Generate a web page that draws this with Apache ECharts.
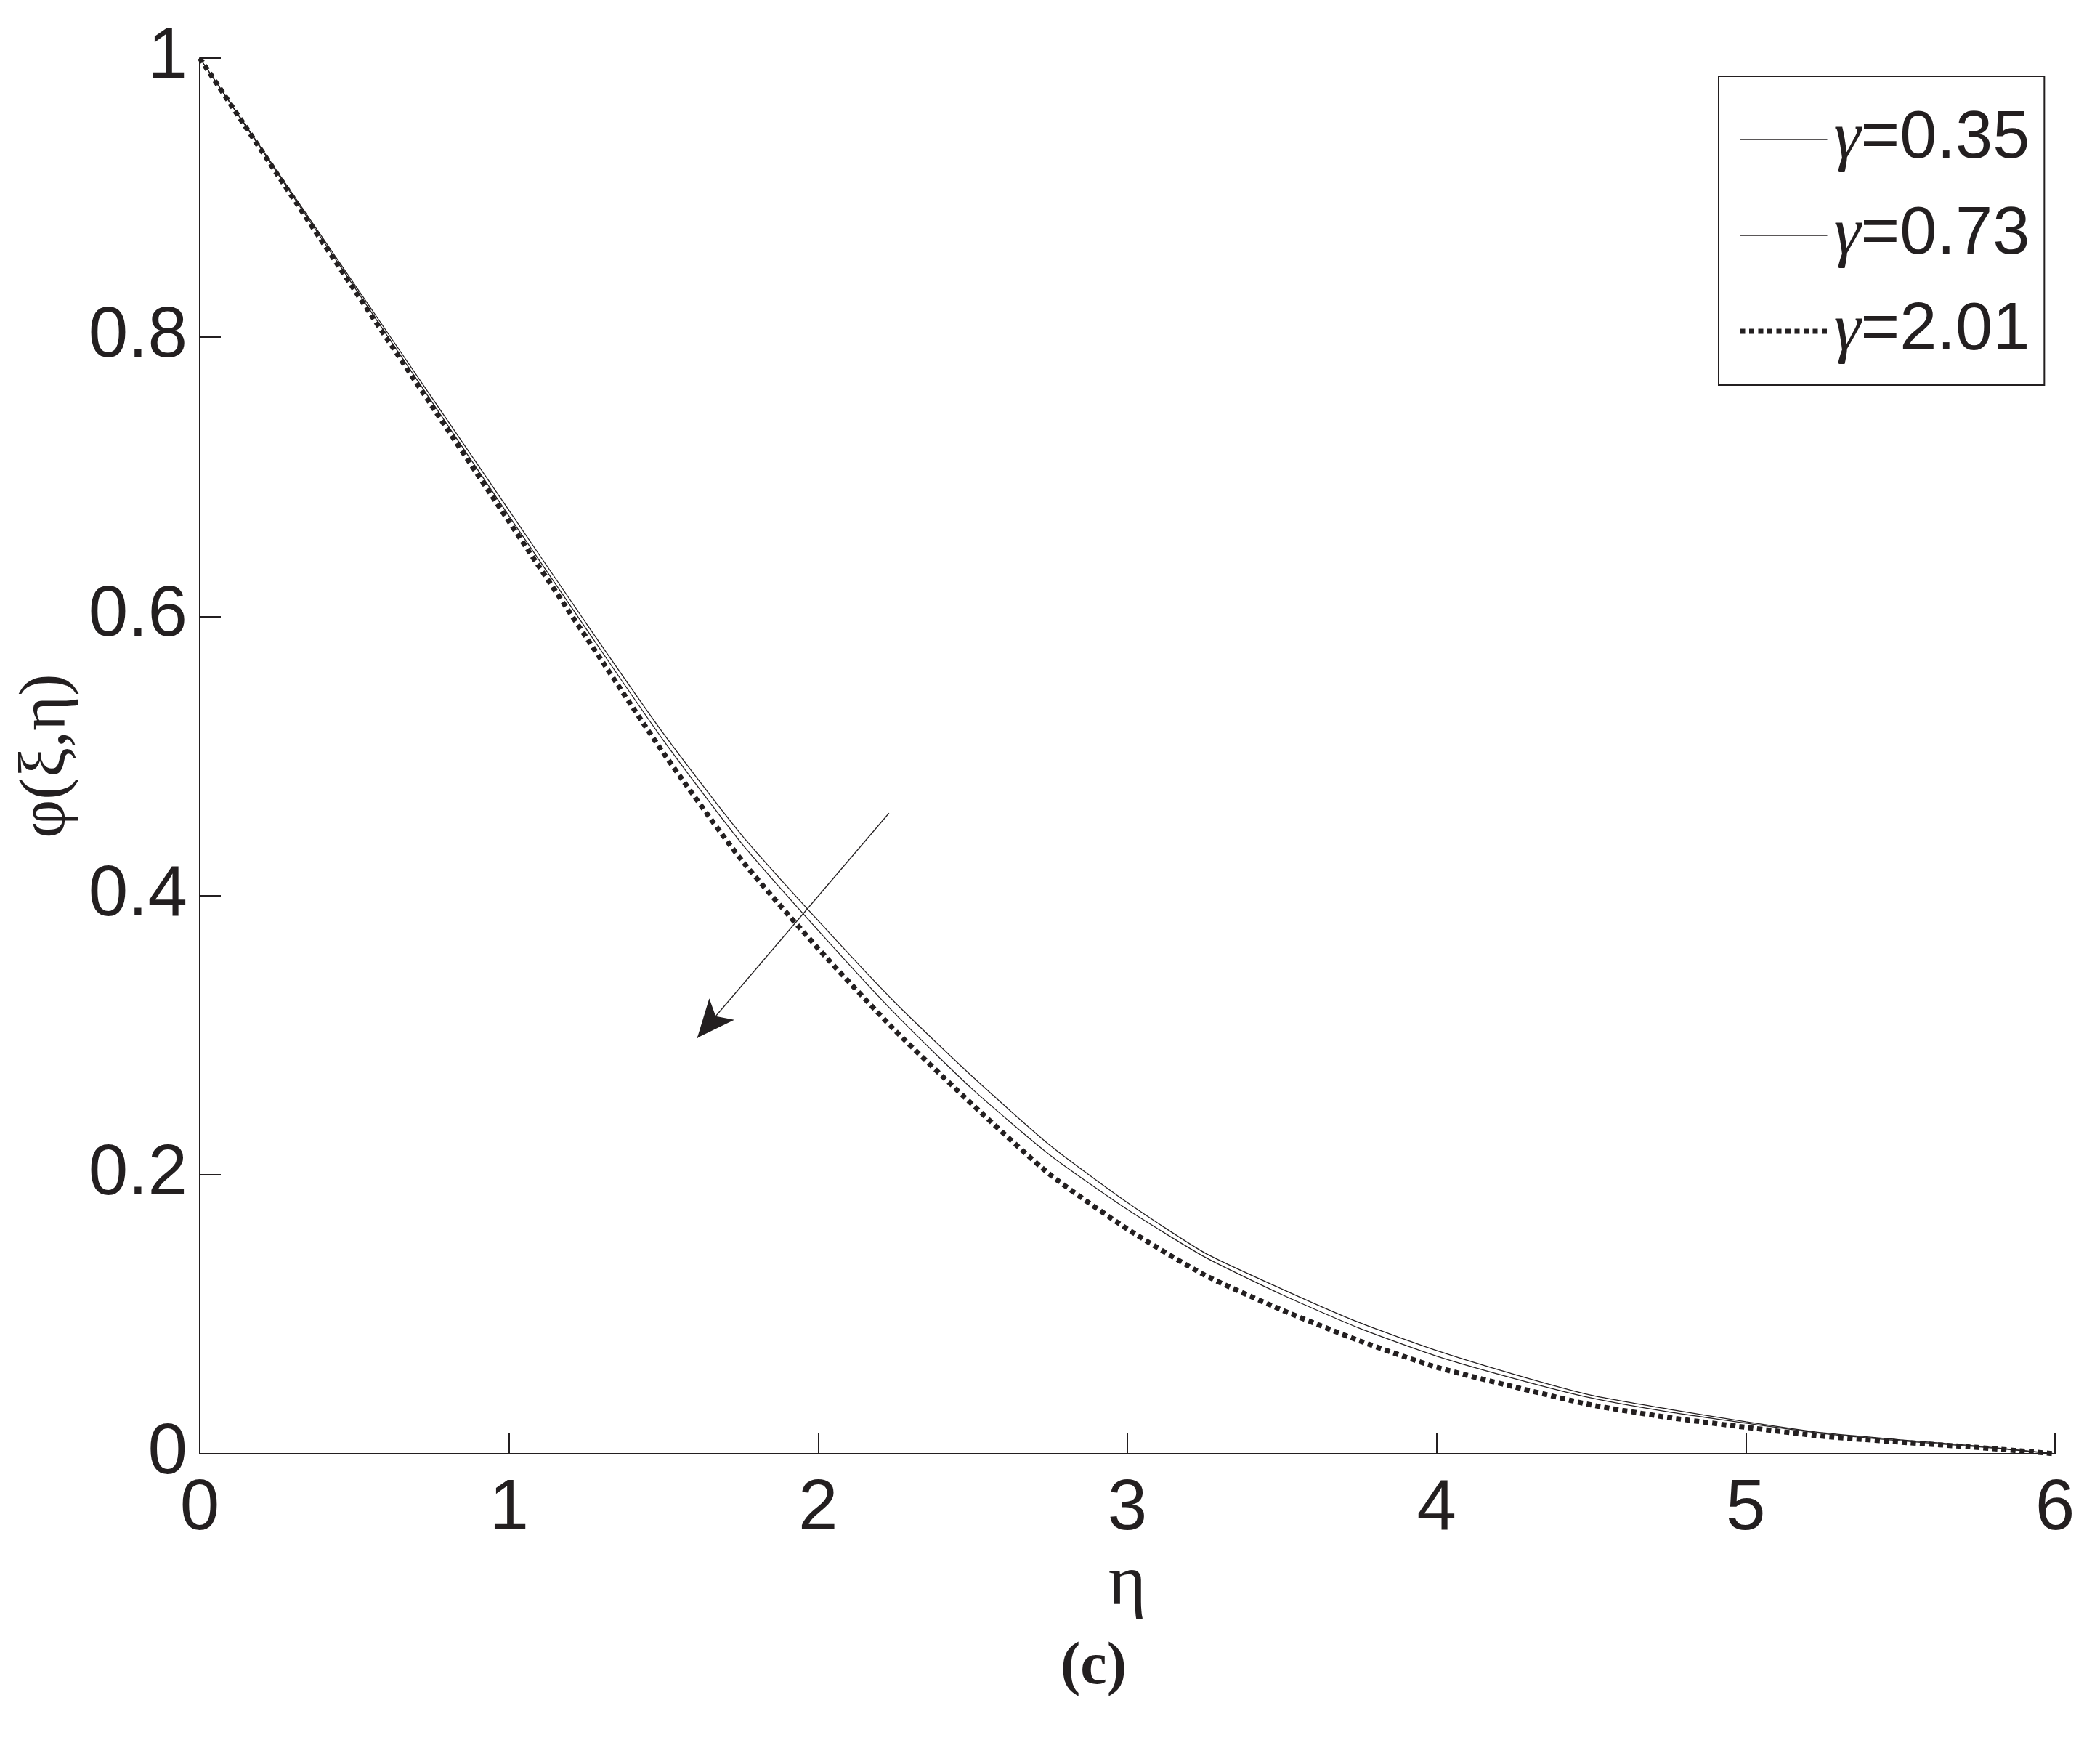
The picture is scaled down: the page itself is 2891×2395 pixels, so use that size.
<!DOCTYPE html>
<html>
<head>
<meta charset="utf-8">
<script src="https://cdn.jsdelivr.net/npm/echarts@6/dist/echarts.min.js"></script>
<style>
html,body{margin:0;padding:0;background:#ffffff;}
#chart{width:2891px;height:2395px;}
</style>
</head>
<body>
<div id="chart"></div>
<script>
// ---- data ----
const eta = [0, 0.25, 0.5, 0.75, 1.0, 1.25, 1.5, 1.75, 2.0, 2.25, 2.5, 2.75, 3.0,
             3.25, 3.5, 3.75, 4.0, 4.25, 4.5, 4.75, 5.0, 5.25, 5.5, 5.75, 6.0];
const phiGamma035 = [1.000, 0.919, 0.838, 0.757, 0.676, 0.595, 0.516, 0.444, 0.382, 0.323, 0.270, 0.221, 0.180,
                     0.144, 0.118, 0.094, 0.074, 0.057, 0.042, 0.032, 0.023, 0.015, 0.010, 0.0055, 0.000];
const phiGamma073 = [1.000, 0.918, 0.836, 0.754, 0.672, 0.591, 0.511, 0.438, 0.375, 0.315, 0.261, 0.214, 0.175,
                     0.141, 0.114, 0.090, 0.070, 0.054, 0.040, 0.030, 0.022, 0.0145, 0.0093, 0.005, 0.000];
const phiGamma201 = [1.000, 0.917, 0.834, 0.751, 0.668, 0.585, 0.502, 0.426, 0.362, 0.303, 0.250, 0.200, 0.161,
                     0.128, 0.103, 0.081, 0.062, 0.048, 0.035, 0.026, 0.019, 0.0125, 0.0083, 0.0045, 0.000];
const seriesNames = ['γ=0.35', 'γ=0.73', 'γ=2.01'];
const xTickValues = [0, 1, 2, 3, 4, 5, 6];
const yTickValues = [0, 0.2, 0.4, 0.6, 0.8, 1];
const arrowFrom = [2.229, 0.459];
const arrowTo = [1.609, 0.298];
const xAxisTitle = 'η';
const yAxisTitle = 'φ(ξ,η)';
const panelLabel = 'c';

// ---- styling ----
const ink = '#231f20';
const sans = "'Liberation Sans', Arial, sans-serif";
const serif = "'Liberation Serif', 'Times New Roman', serif";
const solidStyle = { color: ink, width: 1.3, type: 'solid' };
const dottedStyle = { color: ink, width: 7, type: [7, 5.5], cap: 'butt' };

function pairs(xs, ys) { return xs.map((x, i) => [x, ys[i]]); }

const option = {
  backgroundColor: '#ffffff',
  animation: false,
  title: {
    text: '{p|(}{c|' + panelLabel + '}{p|)}',
    left: 1455,
    top: 2250,
    textStyle: {
      rich: {
        p: { fontFamily: serif, fontSize: 82, color: ink },
        c: { fontFamily: serif, fontSize: 82, fontWeight: 'bold', color: ink }
      }
    }
  },
  grid: { left: 275, right: 62, top: 80, bottom: 394, containLabel: false },
  legend: {
    orient: 'vertical',
    left: 2366,
    top: 105,
    padding: [40, 20, 27, 26],
    itemWidth: 120,
    itemHeight: 20,
    itemGap: 38,
    borderColor: ink,
    borderWidth: 2,
    backgroundColor: '#ffffff',
    data: [
      { name: seriesNames[0], itemStyle: { opacity: 0 }, lineStyle: solidStyle },
      { name: seriesNames[1], itemStyle: { opacity: 0 }, lineStyle: solidStyle },
      { name: seriesNames[2], itemStyle: { opacity: 0 }, lineStyle: dottedStyle }
    ],
    formatter: function (name) {
      return '{g|' + name.charAt(0) + '}{n|' + name.slice(1) + '}';
    },
    textStyle: {
      padding: [0, 0, 0, 4],
      rich: {
        g: { fontFamily: serif, fontStyle: 'italic', fontSize: 94, color: ink, lineHeight: 94 },
        n: { fontFamily: sans, fontSize: 92, color: ink, lineHeight: 94 }
      }
    }
  },
  xAxis: {
    type: 'value',
    min: xTickValues[0],
    max: xTickValues[xTickValues.length - 1],
    interval: xTickValues[1] - xTickValues[0],
    name: xAxisTitle,
    nameLocation: 'middle',
    nameGap: 126,
    nameTextStyle: { fontFamily: serif, fontSize: 100, color: ink },
    axisLine: { show: true, onZero: false, lineStyle: { color: ink, width: 2 } },
    axisTick: { show: true, inside: true, length: 29, lineStyle: { color: ink, width: 2 } },
    axisLabel: { margin: 28, fontFamily: sans, fontSize: 98, color: ink },
    splitLine: { show: false }
  },
  yAxis: {
    type: 'value',
    min: yTickValues[0],
    max: yTickValues[yTickValues.length - 1],
    interval: yTickValues[1] - yTickValues[0],
    name: yAxisTitle,
    nameLocation: 'middle',
    nameGap: 157,
    nameRotate: 90,
    nameTextStyle: { fontFamily: serif, fontSize: 92, color: ink },
    axisLine: { show: true, onZero: false, lineStyle: { color: ink, width: 2 } },
    axisTick: { show: true, inside: true, length: 29, lineStyle: { color: ink, width: 2 } },
    axisLabel: { margin: 17, fontFamily: sans, fontSize: 98, color: ink },
    splitLine: { show: false }
  },
  series: [
    {
      name: seriesNames[0],
      type: 'line',
      data: pairs(eta, phiGamma035),
      symbol: 'none',
      smooth: 0.2,
      lineStyle: solidStyle,
      itemStyle: { color: ink },
      z: 2,
      markLine: {
        silent: true,
        symbol: ['none', 'arrow'],
        symbolSize: [34, 52],
        label: { show: false },
        lineStyle: { color: ink, width: 1.3, type: 'solid' },
        data: [[{ coord: arrowFrom }, { coord: arrowTo }]]
      }
    },
    {
      name: seriesNames[1],
      type: 'line',
      data: pairs(eta, phiGamma073),
      symbol: 'none',
      smooth: 0.2,
      lineStyle: solidStyle,
      itemStyle: { color: ink },
      z: 2
    },
    {
      name: seriesNames[2],
      type: 'line',
      data: pairs(eta, phiGamma201),
      symbol: 'none',
      smooth: 0.2,
      lineStyle: dottedStyle,
      itemStyle: { color: ink },
      z: 3
    }
  ]
};

const chart = echarts.init(document.getElementById('chart'), null, { renderer: 'canvas' });
chart.setOption(option);
</script>
</body>
</html>
